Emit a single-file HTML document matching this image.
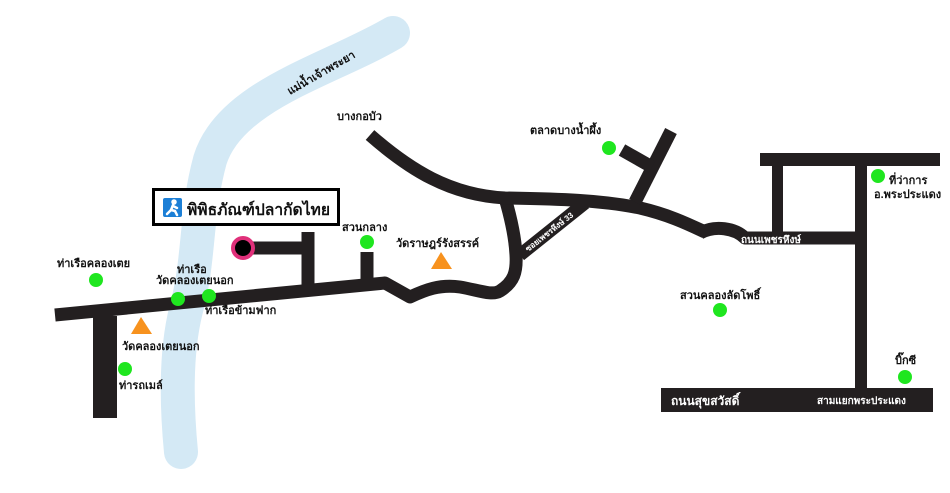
<!DOCTYPE html>
<html><head><meta charset="utf-8"><style>
body{margin:0;background:#fff}
svg{display:block}
text{font-family:"Liberation Sans","Noto Sans CJK SC",sans-serif;font-weight:bold;fill:#111}
</style></head><body>
<svg width="950" height="493" viewBox="0 0 950 493" xmlns="http://www.w3.org/2000/svg" style="font-size:11px">
<rect width="950" height="493" fill="#fff"/>
<path d="M393,33 C330,70 230,95 210,160 C195,215 200,260 186,310 C176,350 176,400 181,452" fill="none" stroke="#d4e9f5" stroke-width="34" stroke-linecap="round"/>
<text transform="translate(290,95) rotate(-30)" style="font-size:11px">แม่น้ำเจ้าพระยา</text>
<g fill="none" stroke="#231f20" stroke-width="13" stroke-linejoin="round">
<path d="M55,315 L385,283 L410,297 C425,290 440,284 460,287 C478,290 492,296 500,291 C514,282 517,272 516,255 C515,235 510,215 505,198"/>
<path d="M370,135 C410,170 450,195 505,198 C560,199 600,200 640,208 C670,215 690,225 705,232"/>
<path d="M700,233 C715,225 735,228 745,238 L858,238"/>
<path d="M520,255 L585,203"/>
<path d="M635,202 L671,131"/>
<path d="M622,150 L652,167"/>
<path d="M250,248 L308,248 M308,232 L308,285"/>
<path d="M367,252 L367,281"/>
</g>
<rect x="93" y="316" width="24" height="102" fill="#231f20"/>
<rect x="760" y="153" width="180" height="13" fill="#231f20"/>
<rect x="772" y="160" width="11" height="76" fill="#231f20"/>
<rect x="855" y="153" width="12" height="240" fill="#231f20"/>
<rect x="661" y="388" width="272" height="24" fill="#231f20"/>
<text x="741" y="243" style="fill:#fff;font-size:10px">ถนนเพชรหึงษ์</text>
<text x="671" y="405" style="fill:#fff;font-size:12px">ถนนสุขสวัสดิ์</text>
<text x="817" y="404" style="fill:#fff;font-size:10px">สามแยกพระประแดง</text>
<text transform="translate(528,252) rotate(-38)" style="fill:#fff;font-size:8px">ซอยเพชรหึงษ์ 33</text>
<circle cx="243" cy="248" r="10" fill="#000" stroke="#e0307a" stroke-width="4"/>
<rect x="153.5" y="189.5" width="185" height="35" fill="#fff" stroke="#000" stroke-width="3"/>
<rect x="163" y="198" width="19" height="19" fill="#1c7fd6" rx="2"/>
<g fill="none" stroke="#fff" stroke-width="2.5" stroke-linecap="round">
<circle cx="174" cy="202" r="1.5" fill="#fff"/>
<path d="M173,205 L171,210 L167,214 M171,210 L175,211 L177,215 M173,206 L177,208"/>
</g>
<text x="187" y="215" style="font-size:16px" textLength="143" lengthAdjust="spacingAndGlyphs">พิพิธภัณฑ์ปลากัดไทย</text>
<g fill="#1fe61f">
<circle cx="96" cy="280" r="7"/><circle cx="178" cy="299" r="7"/><circle cx="209" cy="296" r="7"/>
<circle cx="125" cy="369" r="7"/><circle cx="367" cy="242" r="7"/><circle cx="609" cy="148" r="7"/>
<circle cx="720" cy="310" r="7"/><circle cx="878" cy="176" r="7"/><circle cx="905" cy="377" r="7"/>
</g>
<g fill="#f7921e">
<polygon points="141,317 131,334 152,334"/>
<polygon points="441,252 431,269 452,269"/>
</g>
<text x="337" y="120">บางกอบัว</text>
<text x="530" y="134">ตลาดบางน้ำผึ้ง</text>
<text x="57" y="267">ท่าเรือคลองเตย</text>
<text x="177" y="273">ท่าเรือ</text>
<text x="156" y="284">วัดคลองเตยนอก</text>
<text x="205" y="314">ท่าเรือข้ามฟาก</text>
<text x="122" y="350">วัดคลองเตยนอก</text>
<text x="119" y="389">ท่ารถเมล์</text>
<text x="342" y="231">สวนกลาง</text>
<text x="396" y="247">วัดราษฎร์รังสรรค์</text>
<text x="680" y="299">สวนคลองลัดโพธิ์</text>
<text x="889" y="184">ที่ว่าการ</text>
<text x="874" y="198">อ.พระประแดง</text>
<text x="895" y="364">บิ๊กซี</text>
</svg>
</body></html>
